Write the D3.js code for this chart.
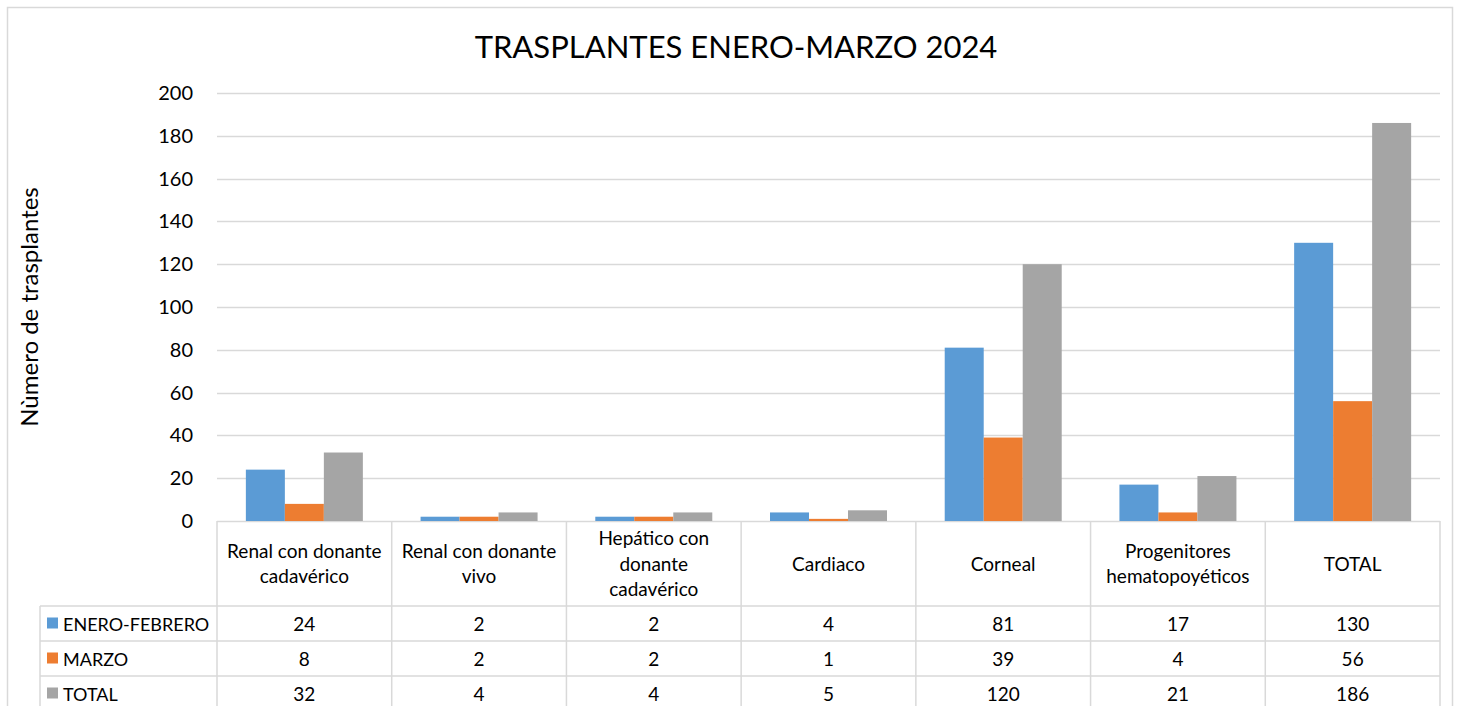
<!DOCTYPE html>
<html>
<head>
<meta charset="utf-8">
<script src="https://cdn.jsdelivr.net/npm/d3@7"></script>
<style>
  body { margin: 0; background: #fff; }
  svg { font-family: Lato, 'Open Sans', sans-serif; }
</style>
</head>
<body>
<div id="chart"></div>
<script>
const categories = [
  ['Renal con donante', 'cadavérico'],
  ['Renal con donante', 'vivo'],
  ['Hepático con', 'donante', 'cadavérico'],
  ['Cardiaco'],
  ['Corneal'],
  ['Progenitores', 'hematopoyéticos'],
  ['TOTAL']
]
const seriesNames = ['ENERO-FEBRERO', 'MARZO', 'TOTAL']
const eneroFebrero = [24, 2, 2, 4, 81, 17, 130]
const marzo = [8, 2, 2, 1, 39, 4, 56]
const total = [32, 4, 4, 5, 120, 21, 186]
const yTicks = [0, 20, 40, 60, 80, 100, 120, 140, 160, 180, 200]
const colors = ['#5b9bd5', '#ed7d31', '#a5a5a5']

const series = [eneroFebrero, marzo, total]

let W = 1460
let H = 706
let plotLeft = 217
let plotRight = 1440
let plotTop = 93
let plotBottom = 521
let grid = '#d9d9d9'
let headerH = 85
let rowH = 35
let legendLeft = 40

let svg = d3
	.select('#chart')
	.append('svg')
	.attr('width', W)
	.attr('height', H)

// outer chart border
svg.append('rect')
	.attr('x', 7.5)
	.attr('y', 7.5)
	.attr('width', W - 15)
	.attr('height', H)
	.attr('fill', 'none')
	.attr('stroke', grid)
	.attr('stroke-width', 1.5)

let x = d3.scaleBand()
	.domain(d3.range(categories.length))
	.range([plotLeft, plotRight])
	.paddingInner(0)
	.paddingOuter(0)

// three bars per group, gap of ~1.5 bar widths between groups
let xInner = d3.scaleBand()
	.domain(d3.range(series.length))
	.range([0, x.bandwidth()])
	.paddingInner(0)
	.paddingOuter(0.74)

let y = d3.scaleLinear().domain([0, 200]).range([plotBottom, plotTop])

// gridlines
svg.append('g')
	.selectAll('line')
	.data(yTicks)
	.join('line')
	.attr('x1', plotLeft)
	.attr('x2', plotRight)
	.attr('y1', d => Math.round(y(d)) + 0.5)
	.attr('y2', d => Math.round(y(d)) + 0.5)
	.attr('stroke', grid)
	.attr('stroke-width', 1.5)

// y tick labels
svg.append('g')
	.selectAll('text')
	.data(yTicks)
	.join('text')
	.attr('x', 193)
	.attr('y', d => y(d) + 7)
	.attr('text-anchor', 'end')
	.attr('font-size', 20)
	.attr('fill', '#000')
	.text(d => d)

// bars
series.forEach((vals, s) => {
	svg.append('g')
		.selectAll('rect')
		.data(vals)
		.join('rect')
		.attr('x', (d, i) => x(i) + xInner(s))
		.attr('y', d => y(d))
		.attr('width', xInner.bandwidth())
		.attr('height', d => y(0) - y(d))
		.attr('fill', colors[s])
})

// title
svg.append('text')
	.attr('x', 736)
	.attr('y', 58)
	.attr('text-anchor', 'middle')
	.attr('font-size', 31)
	.attr('fill', '#000')
	.text('TRASPLANTES ENERO-MARZO 2024')

// y axis title
svg.append('text')
	.attr('transform', 'translate(38,307) rotate(-90)')
	.attr('text-anchor', 'middle')
	.attr('font-size', 24)
	.attr('fill', '#000')
	.text('Nùmero de trasplantes')

// data table
let table = svg.append('g')
let tblBottom = plotBottom + headerH + rowH * 3

// vertical lines
let vx = d3.range(categories.length + 1).map(i => i < categories.length ? x(i) : plotRight)
table.selectAll('line.v')
	.data(vx)
	.join('line')
	.attr('class', 'v')
	.attr('x1', d => d)
	.attr('x2', d => d)
	.attr('y1', plotBottom)
	.attr('y2', tblBottom)
	.attr('stroke', grid)
	.attr('stroke-width', 1.5)

table.append('line')
	.attr('x1', legendLeft)
	.attr('x2', legendLeft)
	.attr('y1', plotBottom + headerH)
	.attr('y2', tblBottom)
	.attr('stroke', grid)
	.attr('stroke-width', 1.5)

// horizontal lines
let hy = [0, 1, 2, 3].map(r => plotBottom + headerH + r * rowH)
table.selectAll('line.h')
	.data(hy)
	.join('line')
	.attr('class', 'h')
	.attr('x1', legendLeft)
	.attr('x2', plotRight)
	.attr('y1', d => d)
	.attr('y2', d => d)
	.attr('stroke', grid)
	.attr('stroke-width', 1.5)

// category headers
categories.forEach((lines, i) => {
	let cx = x(i) + x.bandwidth() / 2
	let lh = 25.5
	let cy = plotBottom + headerH / 2 - (lines.length - 1) * lh / 2 + 7
	let t = table.append('text')
		.attr('text-anchor', 'middle')
		.attr('font-size', 19)
		.attr('fill', '#000')
	lines.forEach((ln, k) => {
		t.append('tspan')
			.attr('x', cx)
			.attr('y', cy + k * lh)
			.text(ln)
	})
})

// series rows
series.forEach((vals, s) => {
	let ry = plotBottom + headerH + s * rowH
	table.append('rect')
		.attr('x', 47)
		.attr('y', ry + rowH / 2 - 6)
		.attr('width', 11)
		.attr('height', 11)
		.attr('fill', colors[s])
	table.append('text')
		.attr('x', 63)
		.attr('y', ry + rowH / 2 + 7)
		.attr('font-size', 18)
		.attr('fill', '#000')
		.text(seriesNames[s])
	table.append('g')
		.selectAll('text')
		.data(vals)
		.join('text')
		.attr('x', (d, i) => x(i) + x.bandwidth() / 2)
		.attr('y', ry + rowH / 2 + 7)
		.attr('text-anchor', 'middle')
		.attr('font-size', 19)
		.attr('fill', '#000')
		.text(d => d)
})
</script>
</body>
</html>
